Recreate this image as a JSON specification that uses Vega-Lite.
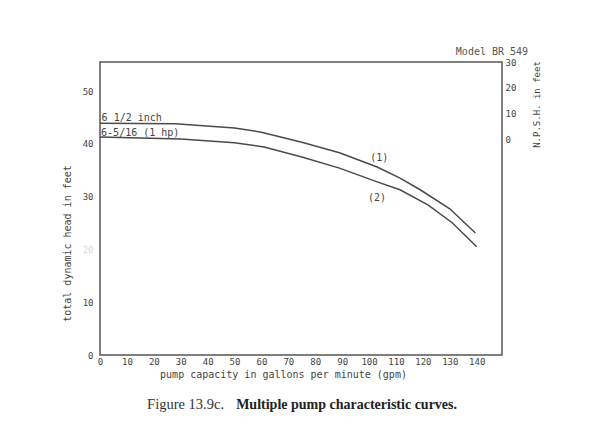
{
  "$schema": "https://vega.github.io/schema/vega-lite/v6.json",
  "autosize": "none",
  "width": 402,
  "height": 293,
  "padding": {"left": 100, "top": 62, "right": 90, "bottom": 90},
  "background": "white",
  "config": {
    "view": {"stroke": "#555555", "strokeWidth": 1.5},
    "font": "DejaVu Sans Mono"
  },
  "datasets": {
    "curves": [
      {"gpm": 0, "head": 43.9, "curve": "(1)"},
      {"gpm": 28, "head": 43.8, "curve": "(1)"},
      {"gpm": 50, "head": 43.0, "curve": "(1)"},
      {"gpm": 60, "head": 42.2, "curve": "(1)"},
      {"gpm": 75, "head": 40.3, "curve": "(1)"},
      {"gpm": 89, "head": 38.3, "curve": "(1)"},
      {"gpm": 103, "head": 35.6, "curve": "(1)"},
      {"gpm": 111.5, "head": 33.5, "curve": "(1)"},
      {"gpm": 119, "head": 31.3, "curve": "(1)"},
      {"gpm": 130, "head": 27.7, "curve": "(1)"},
      {"gpm": 139.5, "head": 23.1, "curve": "(1)"},
      {"gpm": 0, "head": 41.3, "curve": "(2)"},
      {"gpm": 30, "head": 40.9, "curve": "(2)"},
      {"gpm": 50, "head": 40.2, "curve": "(2)"},
      {"gpm": 61, "head": 39.4, "curve": "(2)"},
      {"gpm": 75, "head": 37.5, "curve": "(2)"},
      {"gpm": 89, "head": 35.4, "curve": "(2)"},
      {"gpm": 103, "head": 32.8, "curve": "(2)"},
      {"gpm": 111.5, "head": 31.3, "curve": "(2)"},
      {"gpm": 122, "head": 28.4, "curve": "(2)"},
      {"gpm": 131, "head": 25.0, "curve": "(2)"},
      {"gpm": 140, "head": 20.5, "curve": "(2)"}
    ],
    "curveLabels": [
      {"gpm": 100.4, "head": 37.3, "text": "(1)"},
      {"gpm": 99.6, "head": 29.7, "text": "(2)"},
      {"gpm": 0.6, "head": 44.9, "text": "6 1/2 inch"},
      {"gpm": 0.4, "head": 42.0, "text": "6-5/16 (1 hp)"}
    ],
    "model": [
      {"gpm": 159.1, "head": 57.4, "text": "Model BR 549"}
    ],
    "captionA": [
      {"gpm": 17.5, "head": -9.5, "text": "Figure 13.9c."}
    ],
    "captionB": [
      {"gpm": 50.6, "head": -9.5, "text": "Multiple pump characteristic curves."}
    ]
  },
  "layer": [
    {
      "encoding": {
        "x": {
          "field": "gpm", "type": "quantitative",
          "scale": {"domain": [0, 149.4], "nice": false},
          "axis": {
            "values": [0, 10, 20, 30, 40, 50, 60, 70, 80, 90, 100, 110, 120, 130, 140],
            "ticks": false, "domain": false, "grid": false,
            "labelFont": "DejaVu Sans Mono", "labelFontSize": 9, "labelColor": "#444444",
            "labelPadding": 2, "labelFlush": false,
            "title": "pump capacity in gallons per minute (gpm)",
            "titleFont": "DejaVu Sans Mono", "titleFontSize": 10, "titleFontWeight": "normal",
            "titleColor": "#444444", "titleX": 183, "titleY": 19, "titleBaseline": "middle", "titleAlign": "center"
          }
        },
        "y": {
          "field": "head", "type": "quantitative",
          "scale": {"domain": [0, 55.5], "nice": false},
          "axis": {
            "values": [0, 10, 20, 30, 40, 50],
            "ticks": false, "domain": false, "grid": false,
            "labelFont": "DejaVu Sans Mono", "labelFontSize": 9,
            "labelColor": {"condition": {"test": "datum.value == 20", "value": "#d8d8d8"}, "value": "#444444"},
            "labelPadding": 7,
            "title": "total dynamic head in feet",
            "titleFont": "DejaVu Sans Mono", "titleFontSize": 10, "titleFontWeight": "normal",
            "titleColor": "#444444", "titleX": -33, "titleY": 181, "titleAngle": -90,
            "titleBaseline": "middle", "titleAlign": "center"
          }
        }
      },
      "layer": [
        {
          "data": {"name": "curves"},
          "mark": {"type": "line", "color": "#4a4a4a", "strokeWidth": 1.5},
          "encoding": {"detail": {"field": "curve"}}
        },
        {
          "data": {"name": "curveLabels"},
          "mark": {"type": "text", "font": "DejaVu Sans Mono", "fontSize": 10, "color": "#444444", "align": "left", "baseline": "middle"},
          "encoding": {"text": {"field": "text"}}
        },
        {
          "data": {"name": "model"},
          "mark": {"type": "text", "font": "DejaVu Sans Mono", "fontSize": 10, "color": "#555555", "align": "right", "baseline": "middle"},
          "encoding": {"text": {"field": "text"}}
        },
        {
          "data": {"name": "captionA"},
          "mark": {"type": "text", "font": "Liberation Serif", "fontSize": 14.5, "color": "#333333", "align": "left", "baseline": "middle", "fontWeight": "normal"},
          "encoding": {"text": {"field": "text"}}
        },
        {
          "data": {"name": "captionB"},
          "mark": {"type": "text", "font": "Liberation Serif", "fontSize": 14, "color": "#222222", "align": "left", "baseline": "middle", "fontWeight": "bold"},
          "encoding": {"text": {"field": "text"}}
        }
      ]
    },
    {
      "data": {"values": [{"npsh": 0}]},
      "mark": {"type": "rule", "opacity": 0},
      "encoding": {
        "y": {
          "field": "npsh", "type": "quantitative",
          "scale": {"domain": [-84, 30], "nice": false},
          "axis": {
            "orient": "right",
            "values": [0, 10, 20, 30],
            "ticks": false, "domain": false, "grid": false,
            "labelFont": "DejaVu Sans Mono", "labelFontSize": 9, "labelColor": "#444444",
            "labelPadding": 3, "labelFlush": false,
            "title": "N.P.S.H. in feet",
            "titleFont": "DejaVu Sans Mono", "titleFontSize": 9, "titleFontWeight": "normal",
            "titleColor": "#444444", "titleX": 34, "titleY": 42, "titleAngle": -90,
            "titleBaseline": "middle", "titleAlign": "center"
          }
        }
      }
    }
  ],
  "resolve": {"scale": {"y": "independent"}}
}
